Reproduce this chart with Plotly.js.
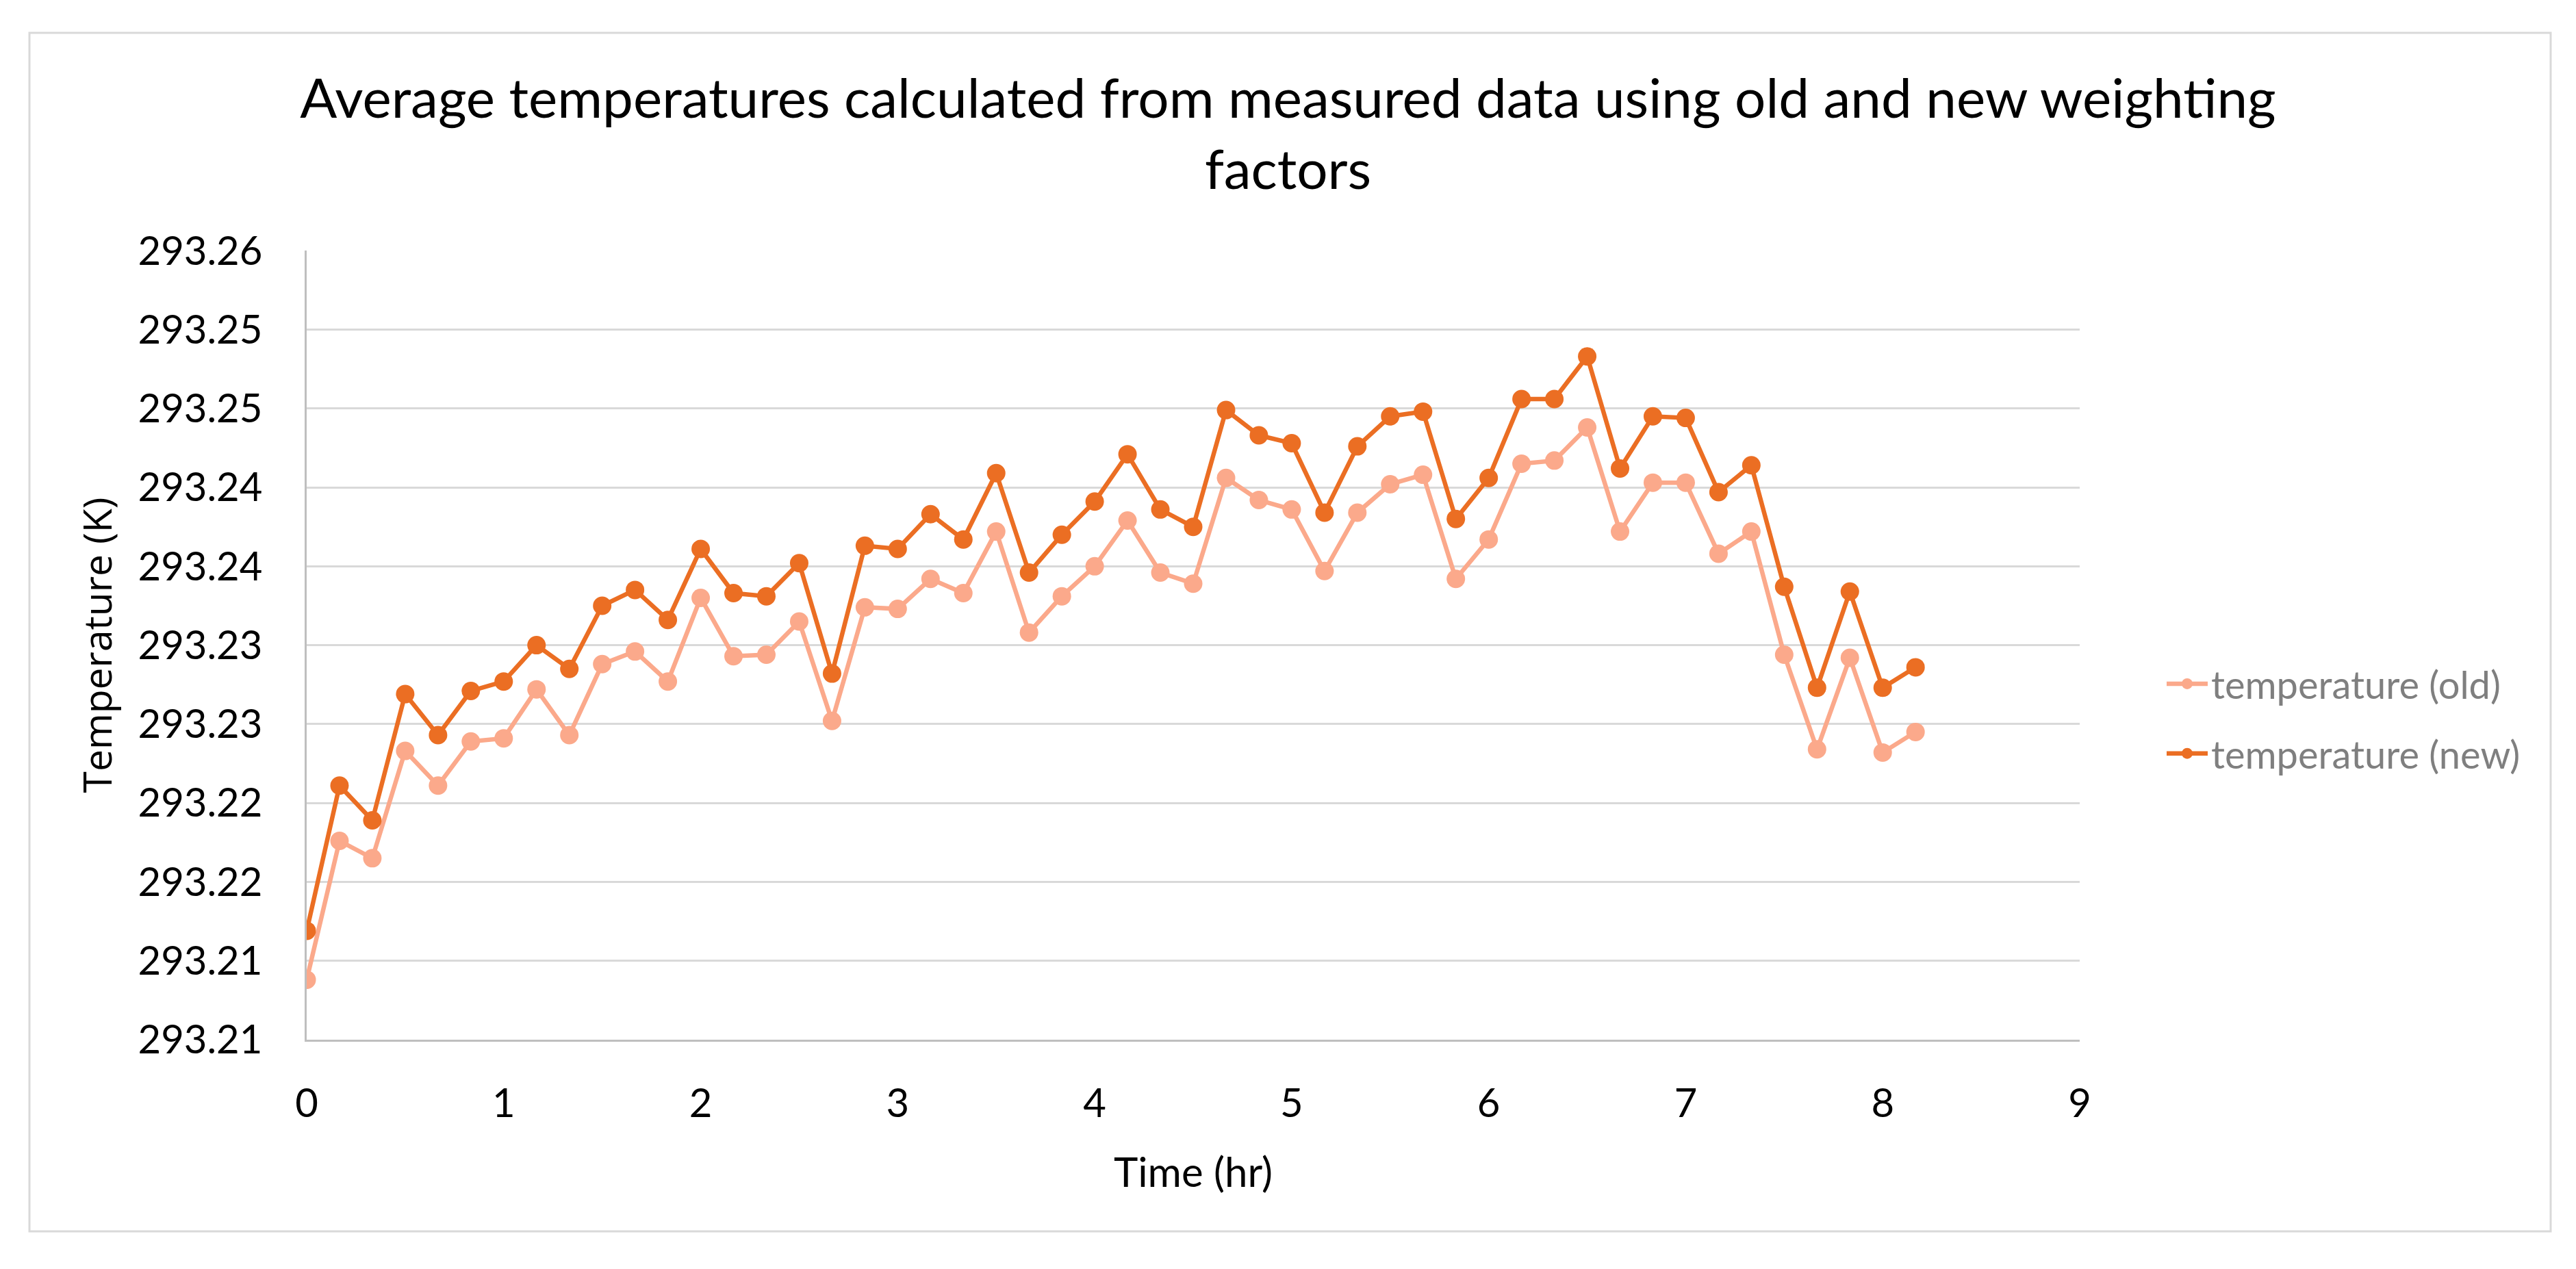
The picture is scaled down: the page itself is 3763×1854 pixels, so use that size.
<!DOCTYPE html>
<html>
<head>
<meta charset="utf-8">
<script src="https://cdn.plot.ly/plotly-3.0.1.min.js"></script>
<style>
  html, body { margin: 0; padding: 0; background: #ffffff; }
  #chart { width: 3763px; height: 1854px; }
</style>
</head>
<body>
<div id="chart"></div>
<script>
// Time in hours (10-minute intervals)
const timeHr = [0, 0.1667, 0.3333, 0.5, 0.6667, 0.8333, 1, 1.1667, 1.3333, 1.5,
  1.6667, 1.8333, 2, 2.1667, 2.3333, 2.5, 2.6667, 2.8333, 3, 3.1667,
  3.3333, 3.5, 3.6667, 3.8333, 4, 4.1667, 4.3333, 4.5, 4.6667, 4.8333,
  5, 5.1667, 5.3333, 5.5, 5.6667, 5.8333, 6, 6.1667, 6.3333, 6.5,
  6.6667, 6.8333, 7, 7.1667, 7.3333, 7.5, 7.6667, 7.8333, 8, 8.1667];

const tempOld = [293.2088, 293.2176, 293.2165, 293.2233, 293.2211, 293.2239, 293.2241, 293.2272, 293.2243, 293.2288,
  293.2296, 293.2277, 293.2330, 293.2293, 293.2294, 293.2315, 293.2252, 293.2324, 293.2323, 293.2342,
  293.2333, 293.2372, 293.2308, 293.2331, 293.2350, 293.2379, 293.2346, 293.2339, 293.2406, 293.2392,
  293.2386, 293.2347, 293.2384, 293.2402, 293.2408, 293.2342, 293.2367, 293.2415, 293.2417, 293.2438,
  293.2372, 293.2403, 293.2403, 293.2358, 293.2372, 293.2294, 293.2234, 293.2292, 293.2232, 293.2245];

const tempNew = [293.2119, 293.2211, 293.2189, 293.2269, 293.2243, 293.2271, 293.2277, 293.2300, 293.2285, 293.2325,
  293.2335, 293.2316, 293.2361, 293.2333, 293.2331, 293.2352, 293.2282, 293.2363, 293.2361, 293.2383,
  293.2367, 293.2409, 293.2346, 293.2370, 293.2391, 293.2421, 293.2386, 293.2375, 293.2449, 293.2433,
  293.2428, 293.2384, 293.2426, 293.2445, 293.2448, 293.2380, 293.2406, 293.2456, 293.2456, 293.2483,
  293.2412, 293.2445, 293.2444, 293.2397, 293.2414, 293.2337, 293.2273, 293.2334, 293.2273, 293.2286];

const seriesNames = ['temperature (old)', 'temperature (new)'];

const yTickVals = [293.205, 293.21, 293.215, 293.22, 293.225, 293.23, 293.235, 293.24, 293.245, 293.25, 293.255];
const yTickText = ['293.21', '293.21', '293.22', '293.22', '293.23', '293.23', '293.24', '293.24', '293.25', '293.25', '293.26'];

const xTickVals = [0, 1, 2, 3, 4, 5, 6, 7, 8, 9];

const titleText = 'Average temperatures calculated from measured data using old and new weighting<br>factors';
const xTitle = 'Time (hr)';
const yTitle = 'Temperature (K)';

const colOld = '#FBA98B';
const colNew = '#EB6E23';

const traces = [
  {
    x: timeHr, y: tempOld, name: seriesNames[0], type: 'scatter', mode: 'lines+markers',
    legendgroup: 'old',
    line: { color: colOld, width: 6.5 },
    marker: { color: colOld, size: 27, symbol: 'circle' }
  },
  {
    x: timeHr, y: tempNew, name: seriesNames[1], type: 'scatter', mode: 'lines+markers',
    legendgroup: 'new',
    line: { color: colNew, width: 6.5 },
    marker: { color: colNew, size: 27, symbol: 'circle' }
  }
];

const W = 3763, H = 1854;
const mL = 448, mR = W - 3038, mT = 366, mB = H - 1519;
const pw = W - mL - mR, ph = H - mT - mB;
function px2x(p) { return (p - mL) / pw; }
function py2y(p) { return (H - mB - p) / ph; }

const layout = {
  width: W, height: H,
  paper_bgcolor: '#ffffff', plot_bgcolor: '#ffffff',
  margin: { l: mL, r: mR, t: mT, b: mB, pad: 0 },
  font: { family: 'Lato, "Liberation Sans", sans-serif', color: '#000000', size: 58 },
  title: {
    text: titleText,
    font: { family: 'Lato, sans-serif', size: 80, color: '#000000' },
    x: 0.5, xref: 'container', xanchor: 'center',
    y: 1 - 172 / H, yref: 'container', yanchor: 'top'
  },
  xaxis: {
    range: [0, 9],
    tickmode: 'array', tickvals: xTickVals,
    showgrid: false, zeroline: false,
    showline: true, linecolor: '#bfbfbf', linewidth: 3,
    ticks: '', ticklabelstandoff: 40,
    tickfont: { family: 'Lato, sans-serif', size: 58, color: '#000000' },
    title: { text: xTitle, font: { family: 'Lato, sans-serif', size: 60, color: '#000000' }, standoff: 50 }
  },
  yaxis: {
    range: [293.205, 293.25501],
    tickmode: 'array', tickvals: yTickVals, ticktext: yTickText,
    showgrid: true, gridcolor: '#d9d9d9', gridwidth: 3,
    zeroline: false,
    showline: true, linecolor: '#bfbfbf', linewidth: 3,
    ticks: '', ticklabelstandoff: 50,
    tickfont: { family: 'Lato, sans-serif', size: 58, color: '#000000' },
    title: { text: yTitle, font: { family: '"Open Sans", sans-serif', size: 57, color: '#000000' }, standoff: 20 }
  },
  showlegend: true,
  legend: {
    x: px2x(3160), xanchor: 'left',
    y: py2y(1050), yanchor: 'middle',
    font: { family: 'Lato, sans-serif', size: 56, color: '#7f7f7f' },
    bgcolor: 'rgba(0,0,0,0)',
    itemwidth: 60,
    tracegroupgap: 26
  },
  shapes: [
    {
      type: 'rect', xref: 'paper', yref: 'paper',
      x0: px2x(43), x1: px2x(3726), y0: py2y(1799), y1: py2y(48),
      line: { color: '#d9d9d9', width: 3 }, fillcolor: 'rgba(0,0,0,0)', layer: 'below'
    }
  ]
};

Plotly.newPlot('chart', traces, layout, { displayModeBar: false, staticPlot: true });
</script>
</body>
</html>
